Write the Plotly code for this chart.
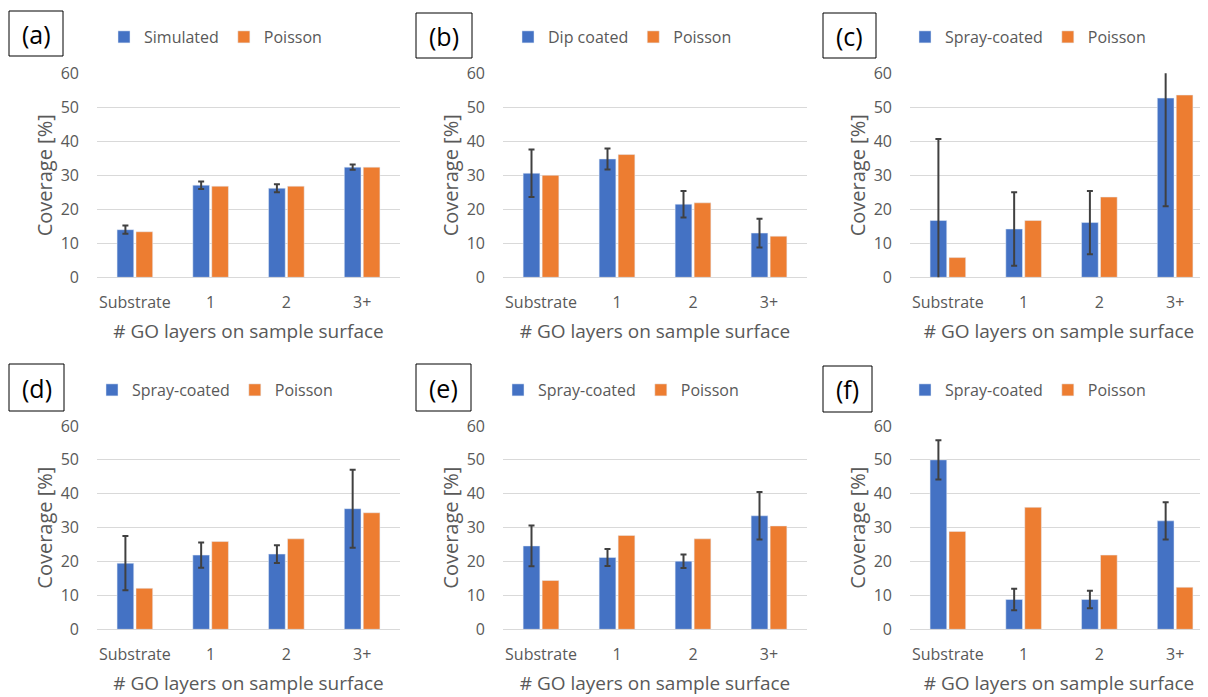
import plotly.graph_objects as go

categories = ["Substrate", "1", "2", "3+"]
panel_labels = ["(a)", "(b)", "(c)", "(d)", "(e)", "(f)"]
exp_names = ["Simulated", "Dip coated", "Spray-coated", "Spray-coated", "Spray-coated", "Spray-coated"]
poisson_name = "Poisson"
y_ticks = [0, 10, 20, 30, 40, 50, 60]

a_exp = [14.0, 27.1, 26.2, 32.4]
a_err = [1.2, 1.1, 1.2, 0.8]
a_poisson = [13.4, 26.8, 26.8, 32.4]

b_exp = [30.6, 34.8, 21.5, 13.0]
b_err = [7.0, 3.1, 3.9, 4.2]
b_poisson = [30.0, 36.1, 21.9, 12.1]

c_exp = [16.7, 14.2, 16.1, 52.7]
c_err = [24.0, 10.8, 9.3, 31.8]
c_poisson = [5.8, 16.7, 23.6, 53.6]

d_exp = [19.5, 21.9, 22.2, 35.6]
d_err = [8.0, 3.7, 2.6, 11.5]
d_poisson = [12.1, 25.9, 26.7, 34.4]

e_exp = [24.6, 21.2, 20.1, 33.5]
e_err = [6.0, 2.5, 2.0, 7.0]
e_poisson = [14.4, 27.7, 26.7, 30.5]

f_exp = [50.0, 8.8, 8.8, 32.0]
f_err = [5.8, 3.2, 2.6, 5.5]
f_poisson = [28.9, 36.0, 21.9, 12.4]

exp_vals = [a_exp, b_exp, c_exp, d_exp, e_exp, f_exp]
exp_errs = [a_err, b_err, c_err, d_err, e_err, f_err]
poisson_vals = [a_poisson, b_poisson, c_poisson, d_poisson, e_poisson, f_poisson]

# the page body has an 8px margin, so the figure is drawn 8px in from the window corner
OFF = 8
W, H = 1208 - OFF, 697 - OFF
BLUE = "#4472C4"
ORANGE = "#ED7D31"
GRAY = "#595959"
FONT = "Open Sans"


def px(p):
    return (p - OFF) / W


def py(p):
    return 1 - (p - OFF) / H


# plot-area boxes in window pixels (left, right) and (top, bottom)
col_x = [(97, 400), (503, 807), (910, 1208)]
row_y = [(73.3, 277.3), (426, 629.3)]
label_boxes = [(9, 63, 11, 56), (416, 472, 13, 58), (823, 876, 13, 58),
               (9, 64, 364, 411), (416, 471, 364, 411), (823, 872, 366, 412)]
legend_sq = [124, 528, 925, 112, 518, 925]
legend_y = [37, 37, 37, 390, 390, 390]

fig = go.Figure()
layout = dict(
    width=W, height=H, margin=dict(l=0, r=0, t=0, b=0, autoexpand=False),
    paper_bgcolor="white", plot_bgcolor="white",
    barmode="group", bargap=0.5, bargroupgap=0.12,
    font=dict(family=FONT, color=GRAY, size=16),
    shapes=[], annotations=[],
)

for i in range(6):
    r, c = divmod(i, 3)
    n = i + 1
    xa = "x" if n == 1 else f"x{n}"
    ya = "y" if n == 1 else f"y{n}"
    lg = "legend" if n == 1 else f"legend{n}"
    fig.add_trace(go.Bar(
        x=categories, y=exp_vals[i], name=exp_names[i], marker_color=BLUE,
        error_y=dict(type="data", array=exp_errs[i], visible=True, color="#404040", thickness=2, width=3),
        xaxis=xa, yaxis=ya, legend=lg,
    ))
    fig.add_trace(go.Bar(
        x=categories, y=poisson_vals[i], name=poisson_name, marker_color=ORANGE,
        xaxis=xa, yaxis=ya, legend=lg,
    ))
    x0, x1 = col_x[c]
    yt, yb = row_y[r]
    xrange_end = 3.5 if c < 2 else 3.5 - (1213 - 1208) / 75.8
    layout["xaxis" if n == 1 else f"xaxis{n}"] = dict(
        domain=[px(x0), min(px(x1), 1.0)], anchor=ya, range=[-0.5, xrange_end],
        showgrid=False, showline=False, ticks="", ticklabelstandoff=14,
        automargin=False,
        tickfont=dict(size=16, color=GRAY),
        title=dict(text="# GO layers on sample surface", font=dict(size=19, color=GRAY), standoff=12),
    )
    layout["yaxis" if n == 1 else f"yaxis{n}"] = dict(
        domain=[py(yb), py(yt)], anchor=xa, range=[0, 60],
        tickvals=y_ticks, showgrid=True, gridcolor="#d9d9d9", gridwidth=1,
        zeroline=True, zerolinecolor="#d9d9d9", zerolinewidth=1,
        showline=False, ticks="", ticklabelstandoff=17,
        automargin=False,
        tickfont=dict(size=16, color=GRAY),
        title=dict(text="Coverage [%]", font=dict(size=20, color=GRAY), standoff=2),
    )
    layout[lg] = dict(
        orientation="h", x=px(legend_sq[i] - 20), xanchor="left",
        y=py(legend_y[i]), yanchor="middle", bgcolor="rgba(0,0,0,0)",
        font=dict(size=16, color=GRAY), itemwidth=30, tracegroupgap=0,
    )
    bx0, bx1, by0, by1 = label_boxes[i]
    layout["shapes"].append(dict(
        type="rect", xref="paper", yref="paper",
        x0=px(bx0), x1=px(bx1), y0=py(by1), y1=py(by0),
        line=dict(color="black", width=1), fillcolor="white",
    ))
    layout["annotations"].append(dict(
        text=panel_labels[i], xref="paper", yref="paper",
        x=px((bx0 + bx1) / 2), y=py((by0 + by1) / 2),
        xanchor="center", yanchor="middle", showarrow=False,
        font=dict(size=25, color="black", family=FONT),
    ))

fig.update_layout(**layout)
fig.write_html("out.html")
